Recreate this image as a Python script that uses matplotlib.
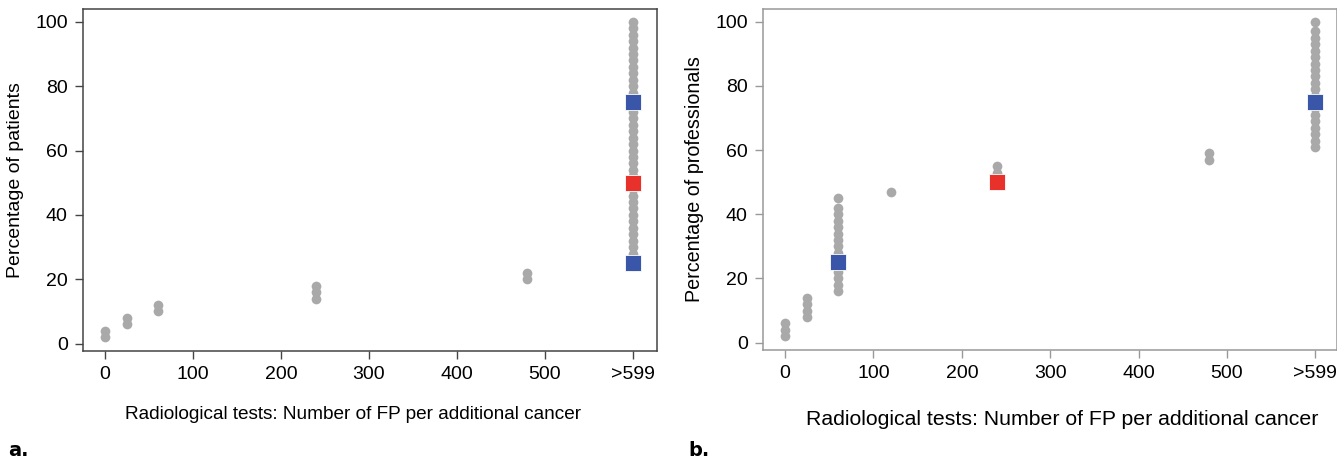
import numpy as np
import matplotlib
matplotlib.use("Agg")
import matplotlib.pyplot as plt

plt.rcParams['font.family'] = ['Liberation Sans', 'DejaVu Sans']

# x positions (number of FP per additional cancer), 600 stands for ">599"
xticks = [0, 100, 200, 300, 400, 500, 600]
xticklabels = ['0', '100', '200', '300', '400', '500', '>599']

# panel a: patients, cumulative percentages stacked as dots
pat_x = [0, 25, 60, 240, 480, 600]
pat_y = [
    [2, 4],
    [6, 8],
    [10, 12],
    [14, 16, 18],
    [20, 22],
    [24, 26, 28, 30, 32, 34, 36, 38, 40, 42, 44, 46, 48, 50, 52, 54, 56, 58, 60,
     62, 64, 66, 68, 70, 72, 74, 76, 78, 80, 82, 84, 86, 88, 90, 92, 94, 96, 98, 100],
]
pat_q_x = [600, 600, 600]
pat_q_y = [25, 50, 75]

# panel b: professionals
pro_x = [0, 25, 60, 120, 240, 480, 600]
pro_y = [
    [2, 4, 6],
    [8, 10, 12, 14],
    [16, 18, 20, 22, 24, 26, 28, 30, 32, 34, 36, 38, 40, 42, 45],
    [47],
    [49, 51, 53, 55],
    [57, 59],
    [61, 63, 65, 67, 69, 71, 73, 75, 77, 79, 81, 83, 85, 87, 89, 91, 93, 95, 97, 100],
]
pro_q_x = [60, 240, 600]
pro_q_y = [25, 50, 75]

quart_colors = ['#3a56a8', '#e8312a', '#3a56a8']
dot_color = '#a9a9a9'

fig = plt.figure(figsize=(13.37, 4.63), dpi=100)


def panel(rect, xs, ys, qx, qy, ylabel, spine_col, xmax, tick_fs, xl_fs, yl_fs, xl_pos, yl_x):
    ax = fig.add_axes(rect)
    for x, col in zip(xs, ys):
        ax.plot([x] * len(col), col, 'o', color=dot_color, ms=7, mec='none')
    for x, y, c in zip(qx, qy, quart_colors):
        ax.plot(x, y, 's', color=c, ms=11.5, mec='white', mew=0.6, zorder=5)
    ax.set_xlim(-25, xmax)
    ax.set_ylim(-2.3, 104)
    ax.set_xticks(xticks)
    ax.set_xticklabels(xticklabels)
    ax.set_yticks([0, 20, 40, 60, 80, 100])
    ax.tick_params(labelsize=tick_fs, length=6, width=1, color=spine_col, pad=5)
    for s in ax.spines.values():
        s.set_color(spine_col)
        s.set_linewidth(1.1)
    ax.set_xlabel('Radiological tests: Number of FP per additional cancer', fontsize=xl_fs)
    ax.xaxis.set_label_coords(*xl_pos)
    ax.set_ylabel(ylabel, fontsize=yl_fs)
    ax.yaxis.set_label_coords(yl_x, 0.5)
    return ax


panel([83 / 1337, 1 - 351 / 463, (656.5 - 83) / 1337, 342 / 463],
      pat_x, pat_y, pat_q_x, pat_q_y, 'Percentage of patients', '#444444', 627,
      14, 13.7, 14, (0.471, -0.162), -0.103)
panel([763 / 1337, 1 - 350 / 463, (1336.5 - 763) / 1337, 341 / 463],
      pro_x, pro_y, pro_q_x, pro_q_y, 'Percentage of professionals', '#999999', 624,
      14, 15.3, 14.2, (0.521, -0.177), -0.103)

fig.text(8 / 1337, 1 - 456 / 463, 'a.', fontsize=14, fontweight='bold',
         family=['Liberation Sans Narrow', 'DejaVu Sans'], va='baseline')
fig.text(688 / 1337, 1 - 456 / 463, 'b.', fontsize=14, fontweight='bold',
         family=['Liberation Sans Narrow', 'DejaVu Sans'], va='baseline')

fig.savefig('out.png', dpi=100)
